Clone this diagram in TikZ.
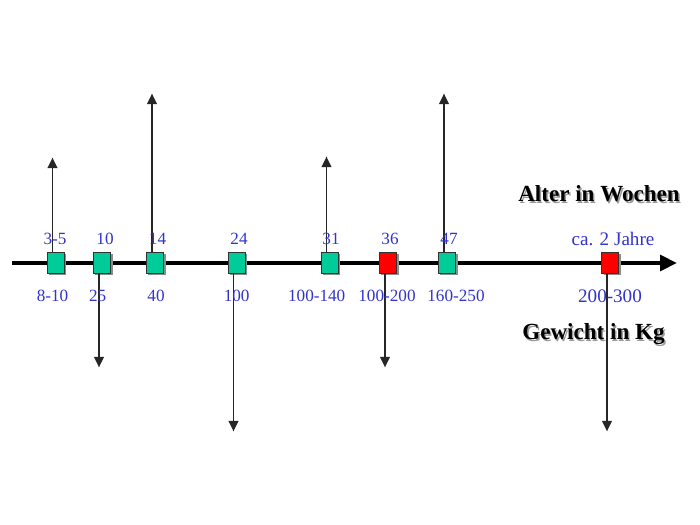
\documentclass[tikz,border=0pt]{standalone}
\usepackage{fontspec}
\setmainfont{Liberation Serif}
\usetikzlibrary{arrows.meta,shadows}
\definecolor{zeitblau}{RGB}{51,51,204}
\definecolor{boxgruen}{RGB}{0,204,153}
\tikzset{
  stufe/.style={draw=black!80, line width=0.5pt, minimum width=0.425cm, minimum height=0.525cm, inner sep=0pt,
    drop shadow={shadow xshift=0.05cm, shadow yshift=-0.05cm, fill=black!45, opacity=1}},
  pfeil/.style={draw=black!85, line width=1.2pt, -{Triangle[width=7pt,length=7.5pt]}},
  wert/.style={text=zeitblau, font=\fontsize{12.2}{14}\selectfont, anchor=base, inner sep=0pt},
  titel/.style={font=\fontsize{16.4}{19}\selectfont\bfseries, anchor=base, inner sep=0pt}
}
\begin{document}
\begin{tikzpicture}[x=0.025cm,y=-0.025cm]
\useasboundingbox (0,0) rectangle (700,525);
%\draw[step=50,gray,very thin] (0,0) grid (700,525);
\coordinate (achseA) at (12,263);
\coordinate (achseB) at (677,263);
\draw[line width=3.2pt, -{Triangle[width=11pt,length=12pt]}] (achseA) -- (achseB);

\node[stufe, fill=boxgruen] (b1) at (55.5,262.5) {};
\node[stufe, fill=boxgruen] (b2) at (102,262.5) {};
\node[stufe, fill=boxgruen] (b3) at (155,262.5) {};
\node[stufe, fill=boxgruen] (b4) at (236.5,262.5) {};
\node[stufe, fill=boxgruen] (b5) at (329.5,262.5) {};
\node[stufe, fill=red] (b6) at (388,262.5) {};
\node[stufe, fill=boxgruen] (b7) at (447,262.5) {};
\node[stufe, fill=red] (b8) at (610,262.5) {};

\draw[pfeil] ([xshift=-0.075cm]b1.north) -- ++(0,-94);
\draw[pfeil] ([xshift=-0.075cm]b2.south) -- ++(0,94);
\draw[pfeil] ([xshift=-0.075cm]b3.north) -- ++(0,-158);
\draw[pfeil] ([xshift=-0.075cm]b4.south) -- ++(0,158);
\draw[pfeil] ([xshift=-0.075cm]b5.north) -- ++(0,-95);
\draw[pfeil] ([xshift=-0.075cm]b6.south) -- ++(0,94);
\draw[pfeil] ([xshift=-0.075cm]b7.north) -- ++(0,-158);
\draw[pfeil] ([xshift=-0.075cm]b8.south) -- ++(0,158);

%------------------------------------------------

\node[wert] (w1) at (55,245) {3-5};
\node[wert] (w2) at (105,245) {10};
\node[wert] (w3) at (157.5,245) {14};
\node[wert] (w4) at (239,245) {24};
\node[wert] (w5) at (331,245) {31};
\node[wert] (w6) at (390,245) {36};
\node[wert] (w7) at (449,245) {47};
\node[wert, font=\fontsize{13.6}{16}\selectfont] (w8) at (613,246) {ca. 2 Jahre};

\node[wert] (g1) at (52.5,302) {8-10};
\node[wert] (g2) at (97.7,302) {25};
\node[wert] (g3) at (156,302) {40};
\node[wert] (g4) at (236.7,302) {100};
\node[wert] (g5) at (316.7,302) {100-140};
\node[wert] (g6) at (387,302) {100-200};
\node[wert] (g7) at (456,302) {160-250};
\node[wert, font=\fontsize{13.6}{16}\selectfont] (g8) at (610,303) {200-300};

\node[titel, text=black!40] at (600.5,203.5) {Alter in Wochen};
\node[titel] (alter) at (599,202) {Alter in Wochen};
\node[titel, text=black!40] at (595,341.5) {Gewicht in Kg};
\node[titel] (gewicht) at (593.5,340) {Gewicht in Kg};
\end{tikzpicture}
\end{document}
